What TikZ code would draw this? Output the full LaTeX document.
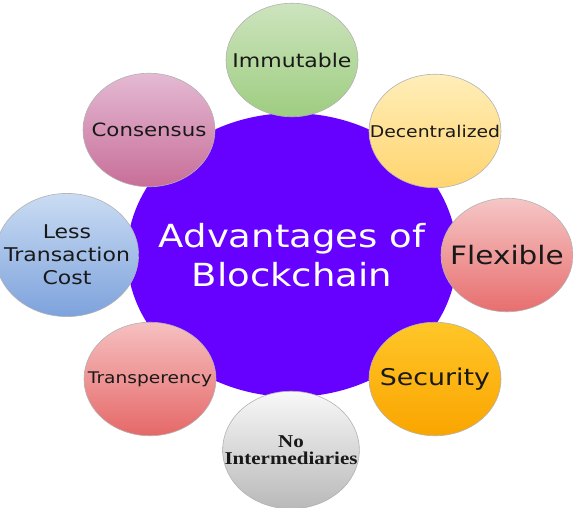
\documentclass[tikz,border=0pt]{standalone}
\usepackage{fontspec}
\setmainfont{DejaVu Sans}
\newfontfamily\serifbf{Liberation Serif}

\definecolor{hubpurple}{RGB}{102,0,255}
\definecolor{greentop}{RGB}{205,228,190}
\definecolor{greenbot}{RGB}{158,205,128}
\definecolor{yellowtop}{RGB}{255,238,185}
\definecolor{yellowbot}{RGB}{255,212,110}
\definecolor{flextop}{RGB}{246,198,198}
\definecolor{flexbot}{RGB}{232,110,110}
\definecolor{sectop}{RGB}{255,198,40}
\definecolor{secbot}{RGB}{250,165,0}
\definecolor{graytop}{RGB}{248,248,248}
\definecolor{graybot}{RGB}{185,185,185}
\definecolor{transtop}{RGB}{246,192,192}
\definecolor{transbot}{RGB}{230,104,104}
\definecolor{bluetop}{RGB}{202,220,243}
\definecolor{bluebot}{RGB}{125,162,220}
\definecolor{constop}{RGB}{228,186,211}
\definecolor{consbot}{RGB}{200,110,152}

\tikzset{
  bubble/.style 2 args={circle, draw=black!30, line width=0.6pt,
    minimum size=132pt, inner sep=0pt, yscale=0.86,
    top color=#1, bottom color=#2, text=black!90, align=center},
  fsize/.style={font=\fontsize{#1}{#1}\selectfont}
}

\begin{document}
\begin{tikzpicture}[x=1pt, y=-1pt]
  \useasboundingbox (0,0) rectangle (573,507);

  \node (hub) at (292,255) [circle, fill=hubpurple, minimum size=330pt, yscale=0.86,
    text=white, align=center, font=\fontsize{37}{46}\selectfont] {Advantages of\\Blockchain};

  \node (imm) at (292,60) [bubble={greentop}{greenbot}, fsize=22] {Immutable};
  \node (dec) at (435,131) [bubble={yellowtop}{yellowbot}, fsize=18.8] {Decentralized};
  \node (flex) at (507,255) [bubble={flextop}{flexbot}, fsize=29.5] {Flexible};
  \node (sec) at (435,379) [bubble={sectop}{secbot}, fsize=26.8] {Security};
  \node (inter) at (291,450) [bubble={graytop}{graybot},
    font=\serifbf\bfseries\fontsize{21}{19}\selectfont] {No\\Intermediaries};
  \node (trans) at (150,379) [bubble={transtop}{transbot}, fsize=18.6] {Transperency};
  \node (cost) at (67,255) [bubble={bluetop}{bluebot}, font=\fontsize{22}{26.5}\selectfont] {Less\\Transaction\\Cost};
  \node (cons) at (149,130) [bubble={constop}{consbot}, fsize=21.3] {Consensus};
\end{tikzpicture}
\end{document}
